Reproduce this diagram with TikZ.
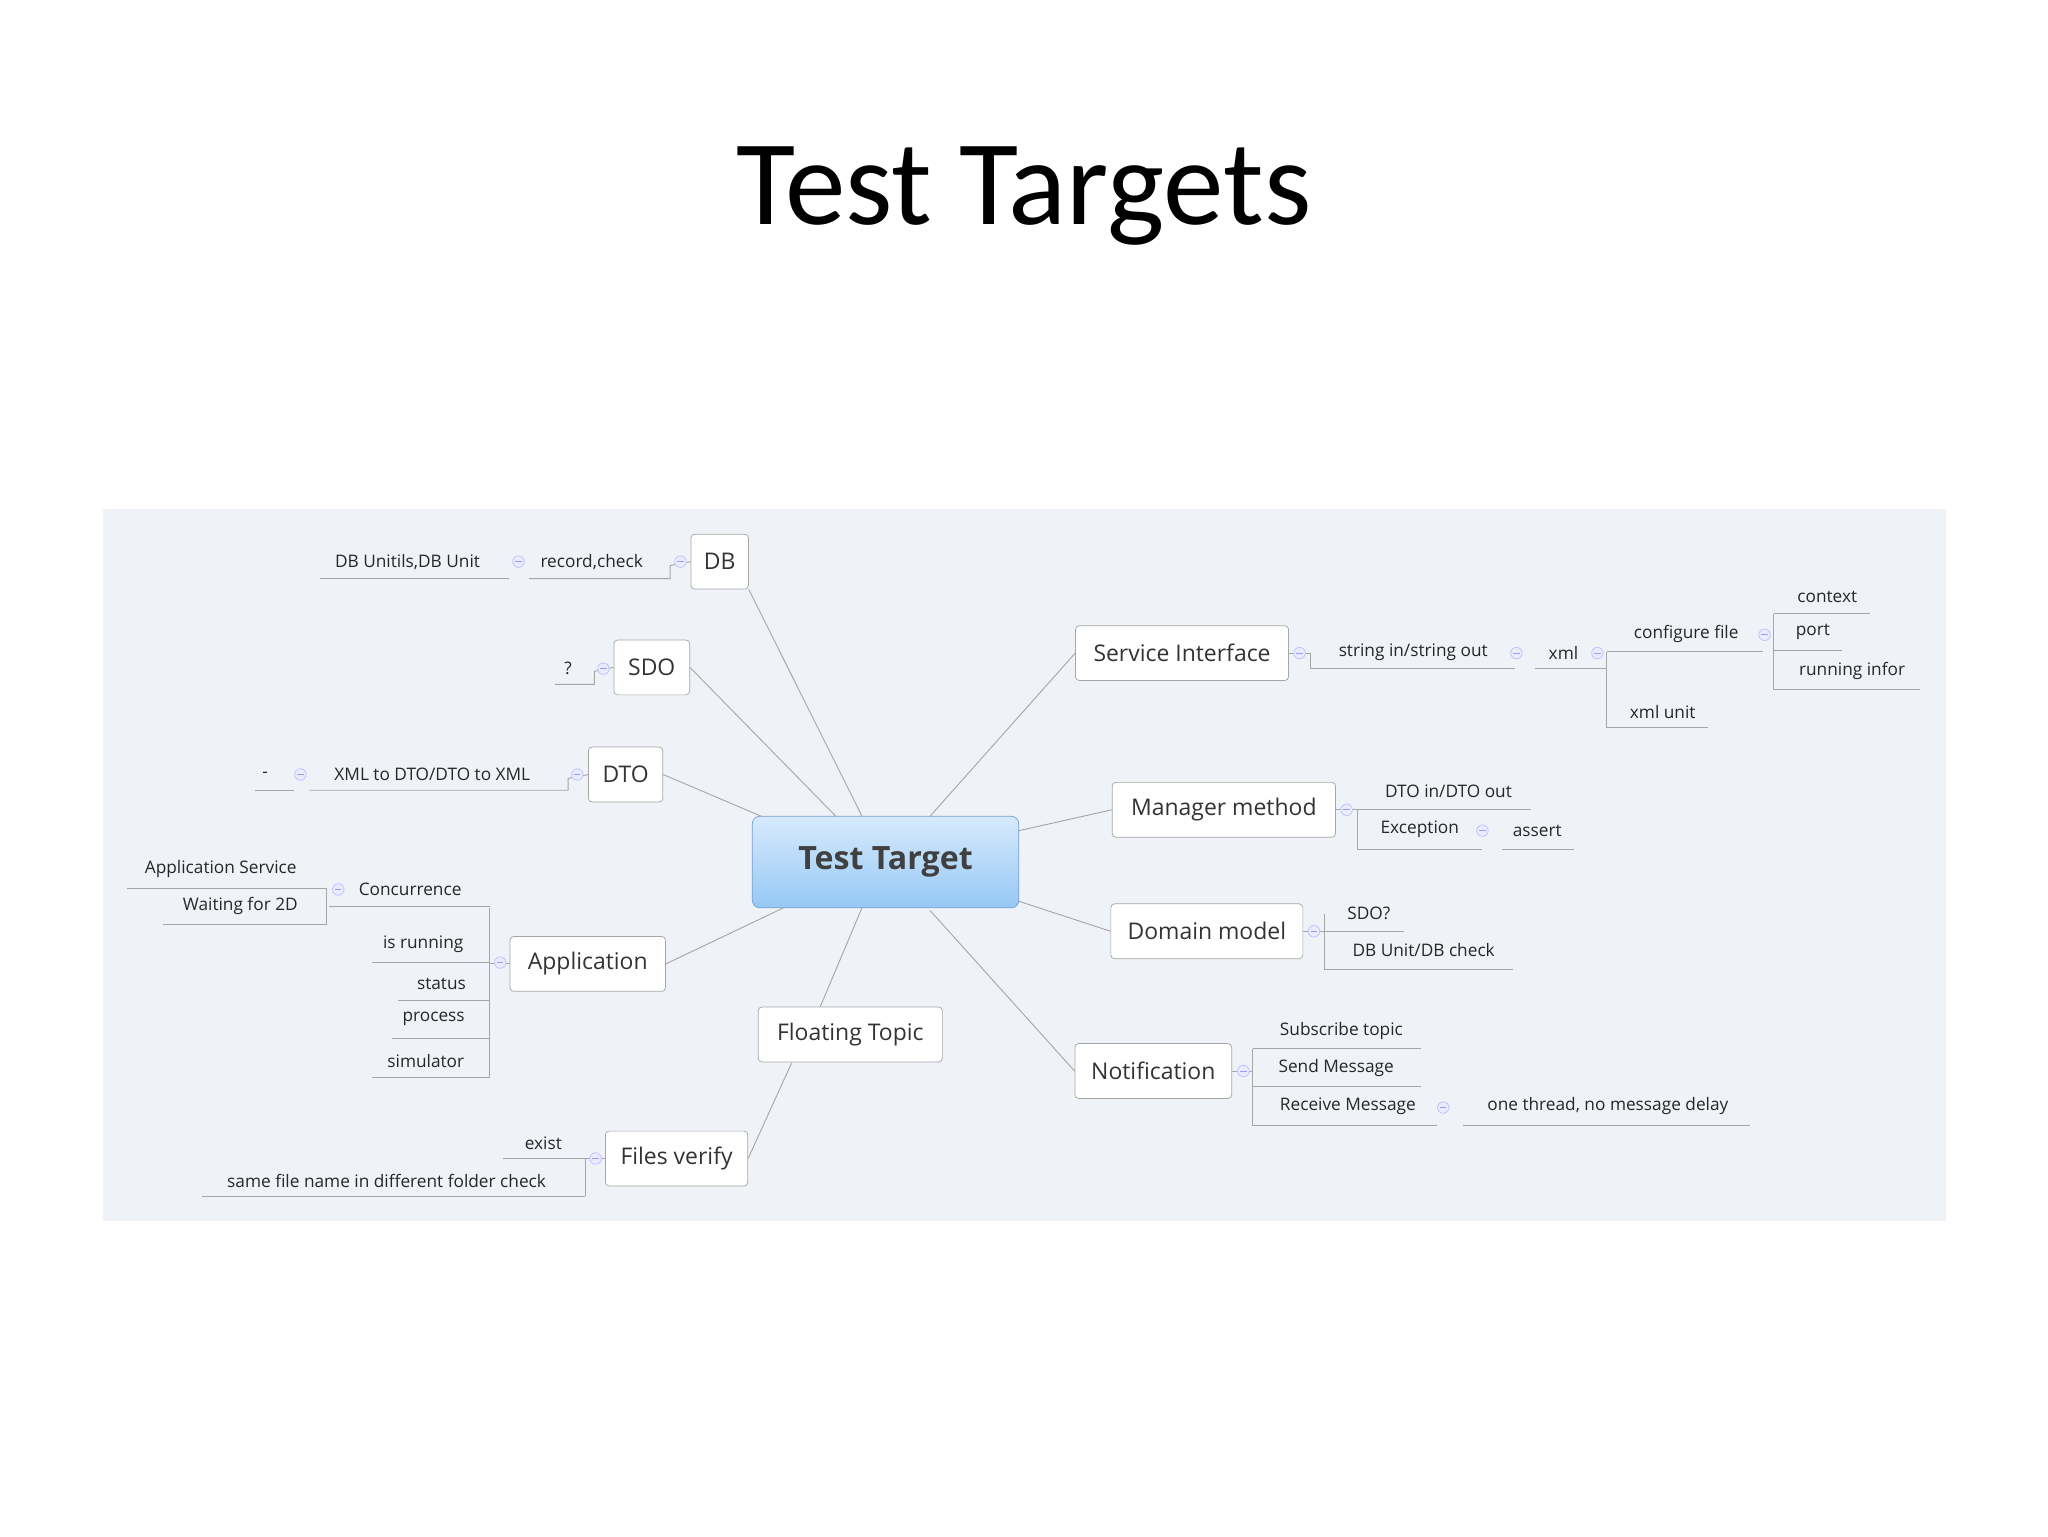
\documentclass[tikz,border=0pt]{standalone}
\usepackage{fontspec}
\setmainfont{Open Sans}
\newfontfamily\titlefont{Carlito}
\begin{document}
\begin{tikzpicture}[x=0.25mm,y=-0.25mm,
  topic/.style={draw=gray!70,fill=white,rounded corners=2pt,font=\fontsize{12.5}{14}\selectfont,text=black!80,inner sep=0pt,minimum height=42*0.25mm},
  lbl/.style={font=\fontsize{9.4}{11}\selectfont,text=black!85,inner sep=0pt},
  ln/.style={draw=gray!70,line width=0.5pt},
  mk/.style={circle,draw=blue!25,fill=blue!8,inner sep=0pt,minimum size=2.2mm,
    path picture={\draw[blue!40,line width=0.4pt] ([xshift=-0.6mm]path picture bounding box.center) -- ([xshift=0.6mm]path picture bounding box.center);}}]
\useasboundingbox (0,0) rectangle (1568,1176);
\fill[fill={rgb,255:red,239;green,243;blue,248}] (79,390) rectangle (1490,935);
\node[font=\titlefont\fontsize{66}{76}\selectfont] (title) at (784,150) {Test Targets};
% central
\node[draw={rgb,255:red,120;green,160;blue,210},rounded corners=4pt,top color={rgb,255:red,215;green,234;blue,252},bottom color={rgb,255:red,150;green,200;blue,245},minimum width=204*0.25mm,minimum height=70*0.25mm,font=\bfseries\fontsize{17.5}{19}\selectfont,text=black!75] (c) at (678,660) {Test Target};
% topics
\node[topic,minimum width=44*0.25mm] (db) at (551,430) {DB};
\node[topic,minimum width=58*0.25mm] (sdo) at (499,511) {SDO};
\node[topic,minimum width=57*0.25mm] (dto) at (479,593) {DTO};
\node[topic,minimum width=119*0.25mm] (app) at (450,738) {Application};
\node[topic,minimum width=141*0.25mm] (ft) at (651,792) {Floating Topic};
\node[topic,minimum width=109*0.25mm] (fv) at (518,887) {Files verify};
\node[topic,minimum width=163*0.25mm] (si) at (905,500) {Service Interface};
\node[topic,minimum width=171*0.25mm] (mm) at (937,620) {Manager method};
\node[topic,minimum width=147*0.25mm] (dm) at (924,713) {Domain model};
\node[topic,minimum width=120*0.25mm] (nt) at (883,820) {Notification};
% main connectors
\draw[ln] (db.south east) -- (660,625);
\draw[ln] (sdo.east) -- (640,625);
\draw[ln] (dto.east) -- (583,625);
\draw[ln] (app.east) -- (600,695);
\draw[ln] (ft.north) ++(-23,0) -- (660,695);
\draw[ln] (fv.east) -- (606,814);
\draw[ln] (si.west) -- (712,625);
\draw[ln] (mm.west) -- (780,636);
\draw[ln] (dm.west) -- (780,690);
\draw[ln] (nt.west) -- (712,697);
% labels left
\node[lbl] (rc) at (453,430) {record,check};
\node[lbl] (dbu) at (312,430) {DB Unitils,DB Unit};
\node[lbl] (q) at (435,512) {?};
\node[lbl] (xml) at (331,593) {XML to DTO/DTO to XML};
\node[lbl] (dash) at (203,593) {-};
\node[lbl] (conc) at (314,681) {Concurrence};
\node[lbl] (isr) at (324,723) {is running};
\node[lbl] (st) at (338,753) {status};
\node[lbl] (pr) at (332,780) {process};
\node[lbl] (sim) at (326,812) {simulator};
\node[lbl] (as) at (169,665) {Application Service};
\node[lbl] (w2) at (184,694) {Waiting for 2D};
\node[lbl] (ex) at (416,875) {exist};
\node[lbl] (sf) at (296,904) {same file name in different folder check};
% labels right
\node[lbl] (sis) at (1082,499) {string in/string out};
\node[lbl] (x) at (1197,500) {xml};
\node[lbl] (cf) at (1291,485) {configure file};
\node[lbl] (xu) at (1273,545) {xml unit};
\node[lbl] (ctx) at (1399,457) {context};
\node[lbl] (port) at (1388,484) {port};
\node[lbl] (ri) at (1418,514) {running infor};
\node[lbl] (dio) at (1109,606) {DTO in/DTO out};
\node[lbl] (exc) at (1087,635) {Exception};
\node[lbl] (asr) at (1177,636) {assert};
\node[lbl] (sq) at (1048,699) {SDO?};
\node[lbl] (dbc) at (1090,727) {DB Unit/DB check};
\node[lbl] (sub) at (1027,789) {Subscribe topic};
\node[lbl] (sm) at (1023,818) {Send Message};
\node[lbl] (rm) at (1032,847) {Receive Message};
\node[lbl] (ot) at (1231,847) {one thread, no message delay};
% underlines & tree lines
\draw[ln] (405,443) -- (513,443) -- (513,433) -- (db.west);
\draw[ln] (245,443) -- (390,443);
\draw[ln] (425,524) -- (455,524) -- (455,514) -- (sdo.west);
\draw[ln] (237,605) -- (435,605) -- (435,596) -- (dto.west);
\draw[ln] (195,605) -- (225,605);
\draw[ln] (375,695) -- (375,825) (375,738) -- (app.west);
\draw[ln] (252,694) -- (375,694);
\draw[ln] (285,737) -- (375,737);
\draw[ln] (305,766) -- (375,766);
\draw[ln] (300,795) -- (375,795);
\draw[ln] (285,825) -- (375,825);
\draw[ln] (250,680) -- (250,708);
\draw[ln] (97,680) -- (250,680);
\draw[ln] (125,708) -- (250,708);
\draw[ln] (448,887) -- (448,916) (448,887) -- (fv.west);
\draw[ln] (385,887) -- (448,887);
\draw[ln] (155,916) -- (448,916);
\draw[ln] (si.east) -- (1003,500) -- (1003,512) -- (1160,512);
\draw[ln] (1175,512) -- (1230,512);
\draw[ln] (1230,499) -- (1230,557);
\draw[ln] (1230,499) -- (1350,499);
\draw[ln] (1230,557) -- (1308,557);
\draw[ln] (1358,470) -- (1358,528);
\draw[ln] (1358,470) -- (1432,470);
\draw[ln] (1358,498) -- (1410,498);
\draw[ln] (1358,528) -- (1470,528);
\draw[ln] (mm.east) -- (1039,620) (1039,620) -- (1039,650);
\draw[ln] (1039,620) -- (1172,620);
\draw[ln] (1039,650) -- (1135,650);
\draw[ln] (1150,650) -- (1205,650);
\draw[ln] (dm.east) -- (1014,713) (1014,700) -- (1014,742);
\draw[ln] (1014,713) -- (1075,713);
\draw[ln] (1014,742) -- (1158,742);
\draw[ln] (nt.east) -- (959,820) (959,803) -- (959,862);
\draw[ln] (959,803) -- (1088,803);
\draw[ln] (959,832) -- (1088,832);
\draw[ln] (959,862) -- (1100,862);
\draw[ln] (1120,862) -- (1340,862);
% collapse markers
\foreach \p in {(521,430),(397,430),(462,512),(442,593),(230,593),(383,737),(259,681),(456,887),
  (995,500),(1161,500),(1223,500),(1351,486),(1031,620),(1135,636),(1006,713),(952,820),(1105,848)}
  \node[mk] at \p {};
\end{tikzpicture}
\end{document}
